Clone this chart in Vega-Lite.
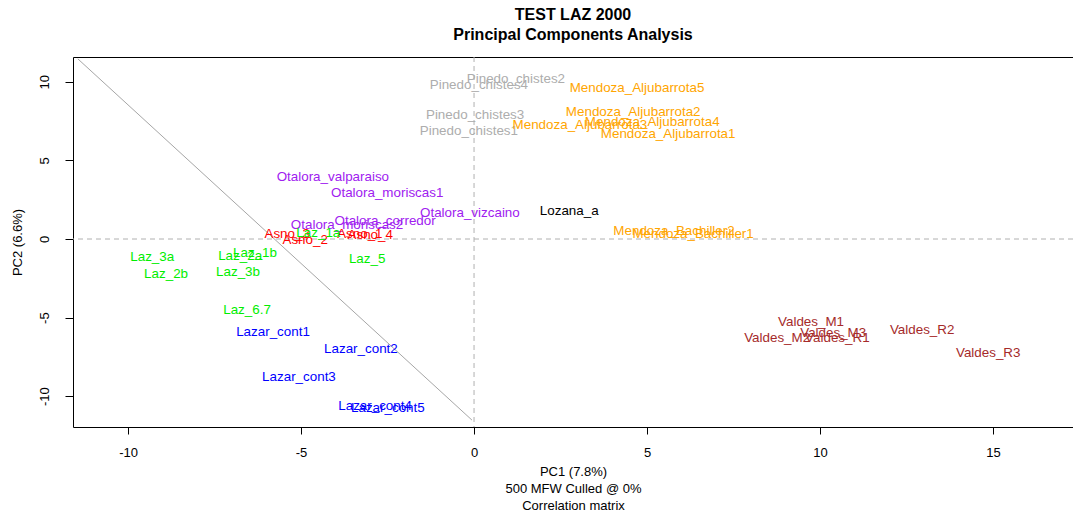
{
  "$schema": "https://vega.github.io/schema/vega-lite/v6.json",
  "width": 1000,
  "height": 370,
  "autosize": {"type": "none"},
  "padding": {"left": 73, "top": 57, "right": 0, "bottom": 89},
  "background": "white",
  "config": {
    "view": {"stroke": "black", "strokeWidth": 1},
    "font": "Liberation Sans",
    "axis": {"grid": false, "domain": false, "tickColor": "black", "labelColor": "black", "titleColor": "black", "labelFont": "Liberation Sans", "titleFont": "Liberation Sans", "labelFontSize": 13, "titleFontSize": 13, "titleFontWeight": "normal"}
  },
  "title": {
    "text": ["TEST LAZ 2000", "Principal Components Analysis"],
    "font": "Liberation Sans",
    "fontSize": 16,
    "fontWeight": "bold",
    "lineHeight": 20,
    "anchor": "middle",
    "offset": 14,
    "color": "black"
  },
  "datasets": {
    "pts": [
      {"label": "Pinedo_chistes2", "x": 1.21, "y": 10.19, "group": "Pinedo"},
      {"label": "Pinedo_chistes4", "x": 0.14, "y": 9.81, "group": "Pinedo"},
      {"label": "Pinedo_chistes3", "x": 0.03, "y": 7.9, "group": "Pinedo"},
      {"label": "Pinedo_chistes1", "x": -0.15, "y": 6.9, "group": "Pinedo"},
      {"label": "Mendoza_Aljubarrota5", "x": 4.71, "y": 9.62, "group": "Mendoza"},
      {"label": "Mendoza_Aljubarrota2", "x": 4.6, "y": 8.1, "group": "Mendoza"},
      {"label": "Mendoza_Aljubarrota4", "x": 5.15, "y": 7.47, "group": "Mendoza"},
      {"label": "Mendoza_Aljubarrota3", "x": 3.06, "y": 7.28, "group": "Mendoza"},
      {"label": "Mendoza_Aljubarrota1", "x": 5.61, "y": 6.71, "group": "Mendoza"},
      {"label": "Mendoza_Bachiller2", "x": 5.78, "y": 0.51, "group": "Mendoza"},
      {"label": "Mendoza_Bachiller1", "x": 6.33, "y": 0.32, "group": "Mendoza"},
      {"label": "Lozana_a", "x": 2.75, "y": 1.77, "group": "Lozana"},
      {"label": "Otalora_vizcaino", "x": -0.12, "y": 1.65, "group": "Otalora"},
      {"label": "Otalora_valparaiso", "x": -4.08, "y": 3.92, "group": "Otalora"},
      {"label": "Otalora_moriscas1", "x": -2.51, "y": 2.91, "group": "Otalora"},
      {"label": "Otalora_corredor", "x": -2.57, "y": 1.14, "group": "Otalora"},
      {"label": "Otalora_moriscas2", "x": -3.67, "y": 0.89, "group": "Otalora"},
      {"label": "Asno_3", "x": -5.4, "y": 0.32, "group": "Asno"},
      {"label": "Asno_2", "x": -4.88, "y": -0.06, "group": "Asno"},
      {"label": "Asno_1", "x": -3.3, "y": 0.3, "group": "Asno"},
      {"label": "Asno_4", "x": -3.0, "y": 0.25, "group": "Asno"},
      {"label": "Laz_1a", "x": -4.5, "y": 0.38, "group": "Laz"},
      {"label": "Laz_3a", "x": -9.3, "y": -1.14, "group": "Laz"},
      {"label": "Laz_2b", "x": -8.9, "y": -2.2, "group": "Laz"},
      {"label": "Laz_2a", "x": -6.76, "y": -1.08, "group": "Laz"},
      {"label": "Laz_1b", "x": -6.33, "y": -0.89, "group": "Laz"},
      {"label": "Laz_3b", "x": -6.82, "y": -2.09, "group": "Laz"},
      {"label": "Laz_6.7", "x": -6.56, "y": -4.49, "group": "Laz"},
      {"label": "Laz_5", "x": -3.09, "y": -1.27, "group": "Laz"},
      {"label": "Lazar_cont1", "x": -5.81, "y": -5.89, "group": "Lazar"},
      {"label": "Lazar_cont2", "x": -3.27, "y": -7.0, "group": "Lazar"},
      {"label": "Lazar_cont3", "x": -5.06, "y": -8.8, "group": "Lazar"},
      {"label": "Lazar_cont4", "x": -2.86, "y": -10.63, "group": "Lazar"},
      {"label": "Lazar_cont5", "x": -2.49, "y": -10.76, "group": "Lazar"},
      {"label": "Valdes_M1", "x": 9.74, "y": -5.25, "group": "Valdes"},
      {"label": "Valdes_R2", "x": 12.95, "y": -5.76, "group": "Valdes"},
      {"label": "Valdes_R3", "x": 14.86, "y": -7.28, "group": "Valdes"},
      {"label": "Valdes_M2", "x": 8.76, "y": -6.27, "group": "Valdes"},
      {"label": "Valdes_M3", "x": 10.38, "y": -6.0, "group": "Valdes"},
      {"label": "Valdes_R1", "x": 10.5, "y": -6.27, "group": "Valdes"}
    ],
    "diag": [
      {"x": -11.45, "y": 11.46},
      {"x": -0.06, "y": -11.52}
    ],
    "zero": [{"v": 0}]
  },
  "layer": [
    {
      "data": {"name": "zero"},
      "mark": {"type": "rule", "color": "#b0b0b0", "strokeDash": [5, 4], "strokeWidth": 1},
      "encoding": {"x": {"field": "v", "type": "quantitative", "scale": {"domain": [-11.59, 17.31], "nice": false, "zero": false}}}
    },
    {
      "data": {"name": "zero"},
      "mark": {"type": "rule", "color": "#b0b0b0", "strokeDash": [5, 4], "strokeWidth": 1},
      "encoding": {"y": {"field": "v", "type": "quantitative", "scale": {"domain": [-11.96, 11.58], "nice": false, "zero": false}}}
    },
    {
      "data": {"name": "diag"},
      "mark": {"type": "line", "color": "#a6a6a6", "strokeWidth": 1, "clip": true},
      "encoding": {
        "x": {"field": "x", "type": "quantitative"},
        "y": {"field": "y", "type": "quantitative"}
      }
    },
    {
      "data": {"name": "pts"},
      "mark": {"type": "text", "font": "Liberation Sans", "fontSize": 13.4, "align": "center", "baseline": "middle", "clip": true},
      "encoding": {
        "x": {"field": "x", "type": "quantitative", "scale": {"domain": [-11.59, 17.31], "nice": false, "zero": false},
          "axis": {"values": [-10, -5, 0, 5, 10, 15], "labelExpr": "datum.value + ''", "tickSize": 7, "labelPadding": 12, "title": ["PC1 (7.8%)", "500 MFW  Culled @ 0%", "Correlation matrix"], "titleLineHeight": 17, "titlePadding": 6}},
        "y": {"field": "y", "type": "quantitative", "scale": {"domain": [-11.96, 11.58], "nice": false, "zero": false},
          "axis": {"values": [-10, -5, 0, 5, 10], "labelExpr": "datum.value + ''", "tickSize": 8, "labelAngle": 270, "labelAlign": "center", "labelBaseline": "bottom", "labelPadding": 14, "title": "PC2 (6.6%)", "titlePadding": 14}},
        "text": {"field": "label"},
        "color": {"field": "group", "type": "nominal", "legend": null,
          "scale": {"domain": ["Pinedo", "Mendoza", "Lozana", "Otalora", "Asno", "Laz", "Lazar", "Valdes"],
            "range": ["#ADADAD", "#FFA500", "#000000", "#A020F0", "#FF0000", "#00EE00", "#0000FF", "#A52A2A"]}}
      }
    }
  ]
}
